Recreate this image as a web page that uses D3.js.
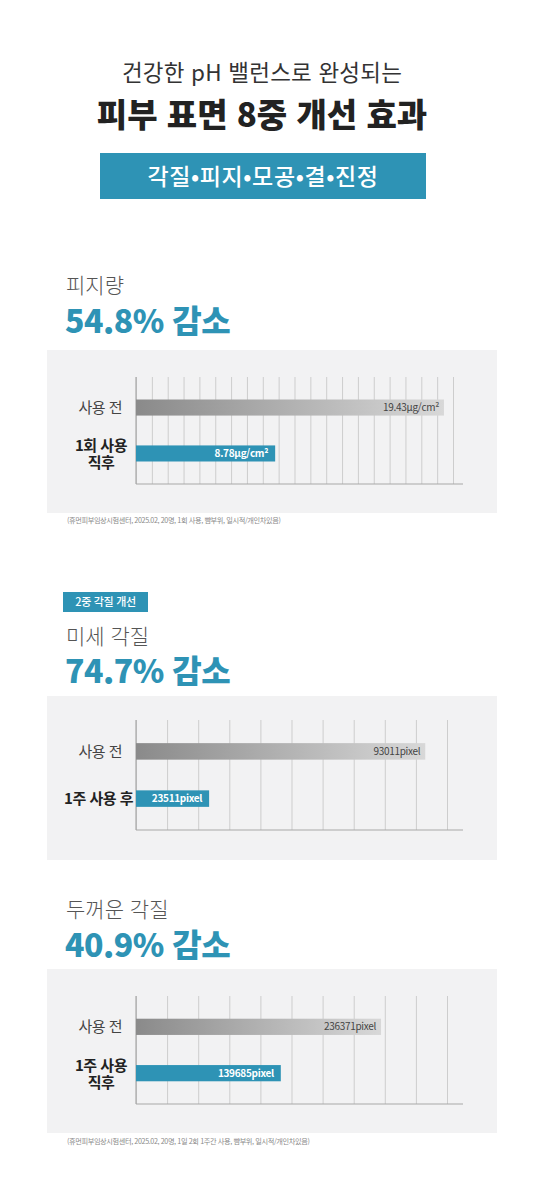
<!DOCTYPE html>
<html lang="ko">
<head>
<meta charset="utf-8">
<script src="https://d3js.org/d3.v7.min.js"></script>
<style>
  body { margin: 0; background: #fff; }
  svg { display: block; font-family: "Noto Sans CJK KR", "Noto Sans", sans-serif; }
</style>
</head>
<body>
<div id="chart"></div>
<script>
// ---- data ----
var headLine1 = "건강한 pH 밸런스로 완성되는";
var headLine2 = "피부 표면 8중 개선 효과";
var headTags = "각질•피지•모공•결•진정";

var panelTitles = ["피지량", "미세 각질", "두꺼운 각질"];
var panelResults = ["54.8% 감소", "74.7% 감소", "40.9% 감소"];
var panelBadges = [null, "2중 각질 개선", null];
var rowLabels = [
    ["사용 전", "1회 사용\n직후"],
    ["사용 전", "1주 사용 후"],
    ["사용 전", "1주 사용\n직후"]
];
var beforeValues = [19.43, 93011, 236371];
var afterValues = [8.78, 23511, 139685];
var valueUnits = ["μg/cm²", "pixel", "pixel"];
var axisMax = [20, 100000, 300000];
var tickStep = [1, 10000, 30000];
var footnotes = [
    "(휴먼피부임상시험센터, 2025.02, 20명, 1회 사용, 뺨부위, 일시적/개인차있음)",
    null,
    "(휴먼피부임상시험센터, 2025.02, 20명, 1일 2회 1주간 사용, 뺨부위, 일시적/개인차있음)"
];

// ---- layout ----
var W = 539, H = 1200;
var teal = "#2e93b5";

// panel frames: title baselines, grey box, grid
var frames = [
    { title: 293, result: 333, boxTop: 350, boxBot: 513, gridTop: 377, gridBot: 484, gridRight: 453, foot: 523 },
    { title: 644, result: 683, boxTop: 696, boxBot: 860, gridTop: 720, gridBot: 830, gridRight: 447, foot: null },
    { title: 917, result: 957, boxTop: 969, boxBot: 1133, gridTop: 996, gridBot: 1104, gridRight: 447, foot: 1144 }
];
var axisLeft = 136, axisEnd = 463;

var svg = d3.select("#chart").append("svg")
    .attr("width", W)
    .attr("height", H);

svg.append("rect").attr("width", W).attr("height", H).attr("fill", "#fff");

var defs = svg.append("defs");
var grad = defs.append("linearGradient").attr("id", "greyBar")
    .attr("x1", "0%").attr("x2", "100%").attr("y1", "0%").attr("y2", "0%");
grad.append("stop").attr("offset", "0%").attr("stop-color", "#8a8a8a");
grad.append("stop").attr("offset", "100%").attr("stop-color", "#d8d8d8");

// ---- header ----
svg.append("text")
    .attr("x", 262).attr("y", 81)
    .attr("text-anchor", "middle")
    .attr("font-size", 22.5).attr("fill", "#333")
    .attr("letter-spacing", 0.2)
    .text(headLine1);

svg.append("text")
    .attr("x", 262).attr("y", 127)
    .attr("text-anchor", "middle")
    .attr("font-size", 33).attr("font-weight", 900).attr("fill", "#222")
    .text(headLine2);

svg.append("rect")
    .attr("x", 100).attr("y", 153).attr("width", 326).attr("height", 46)
    .attr("fill", teal);

svg.append("text")
    .attr("x", 263).attr("y", 184.5)
    .attr("text-anchor", "middle")
    .attr("font-size", 23).attr("font-weight", 500).attr("fill", "#fff")
    .attr("letter-spacing", 0.6)
    .text(headTags);

// ---- panels ----
frames.forEach(function(f, i) {
    var g = svg.append("g");

    if (panelBadges[i]) {
        g.append("rect")
            .attr("x", 63).attr("y", 592).attr("width", 85).attr("height", 20)
            .attr("fill", teal);
        g.append("text")
            .attr("x", 105.5).attr("y", 606)
            .attr("text-anchor", "middle")
            .attr("font-size", 11).attr("font-weight", 500).attr("fill", "#fff")
            .attr("letter-spacing", -0.3)
            .text(panelBadges[i]);
    }

    g.append("text")
        .attr("x", 66).attr("y", f.title)
        .attr("font-size", 21).attr("font-weight", 300).attr("fill", "#555")
        .text(panelTitles[i]);

    g.append("text")
        .attr("x", 65).attr("y", f.result)
        .attr("font-size", 32).attr("font-weight", 900).attr("fill", teal)
        .attr("letter-spacing", -0.5)
        .text(panelResults[i]);

    g.append("rect")
        .attr("x", 47).attr("y", f.boxTop)
        .attr("width", 450).attr("height", f.boxBot - f.boxTop)
        .attr("fill", "#f2f2f3");

    var x = d3.scaleLinear()
        .domain([0, axisMax[i]])
        .range([axisLeft, f.gridRight]);

    var rows = ["before", "after"];
    var y = d3.scaleBand()
        .domain(rows)
        .range([f.gridTop, f.gridBot])
        .paddingInner(0.65)
        .paddingOuter(0.49);

    // vertical grid
    var ticks = d3.range(0, axisMax[i] + tickStep[i] / 2, tickStep[i]);
    var grid = g.append("g")
        .attr("transform", "translate(0," + f.gridBot + ")")
        .call(d3.axisBottom(x)
            .tickValues(ticks)
            .tickSizeInner(-(f.gridBot - f.gridTop))
            .tickSizeOuter(0)
            .tickFormat(""));
    grid.select(".domain").remove();
    grid.selectAll(".tick line")
        .attr("stroke", "#cdcdcd")
        .attr("stroke-width", 1);

    // axes
    g.append("line")
        .attr("x1", axisLeft).attr("x2", axisEnd)
        .attr("y1", f.gridBot).attr("y2", f.gridBot)
        .attr("stroke", "#a8a8a8").attr("stroke-width", 1.2);
    g.append("line")
        .attr("x1", axisLeft).attr("x2", axisLeft)
        .attr("y1", f.gridTop).attr("y2", f.gridBot)
        .attr("stroke", "#a8a8a8").attr("stroke-width", 1.2);

    var vals = [beforeValues[i], afterValues[i]];

    // bars
    g.selectAll(".bar")
        .data(rows)
        .enter().append("rect")
        .attr("x", axisLeft)
        .attr("y", function(d) { return y(d); })
        .attr("width", function(d, j) { return x(vals[j]) - axisLeft; })
        .attr("height", y.bandwidth())
        .attr("fill", function(d, j) { return j === 0 ? "url(#greyBar)" : teal; });

    // value labels inside bars
    g.selectAll(".val")
        .data(rows)
        .enter().append("text")
        .attr("x", function(d, j) { return x(vals[j]) - (j === 0 ? 5 : 7); })
        .attr("y", function(d) { return y(d) + y.bandwidth() / 2 + 3.5; })
        .attr("text-anchor", "end")
        .attr("font-size", 10)
        .attr("font-weight", function(d, j) { return j === 0 ? 400 : 700; })
        .attr("letter-spacing", -0.3)
        .attr("fill", function(d, j) { return j === 0 ? "#444" : "#fff"; })
        .text(function(d, j) { return vals[j] + valueUnits[i]; });

    // row labels
    rows.forEach(function(r, j) {
        var lines = rowLabels[i][j].split("\n");
        var cy = y(r) + y.bandwidth() / 2;
        if (lines.length > 1) {
            lines.forEach(function(l, k) {
                g.append("text")
                    .attr("text-anchor", "middle")
                    .attr("x", 101)
                    .attr("y", cy + 5 - 7.5 + k * 17.5)
                    .attr("font-size", 15)
                    .attr("font-weight", 700)
                    .attr("fill", "#222")
                    .attr("letter-spacing", -0.5)
                    .text(l);
            });
        } else {
            g.append("text")
                .attr("text-anchor", "end")
                .attr("x", j === 0 ? 122 : 133)
                .attr("y", cy + 5.5)
                .attr("font-size", 15)
                .attr("font-weight", j === 0 ? 400 : 700)
                .attr("fill", j === 0 ? "#444" : "#222")
                .attr("letter-spacing", -0.5)
                .text(lines[0]);
        }
    });

    if (footnotes[i]) {
        g.append("text")
            .attr("x", 67).attr("y", f.foot)
            .attr("font-size", 7.2).attr("fill", "#8a8a8a")
            .attr("letter-spacing", -0.4)
            .text(footnotes[i]);
    }
});
</script>
</body>
</html>
